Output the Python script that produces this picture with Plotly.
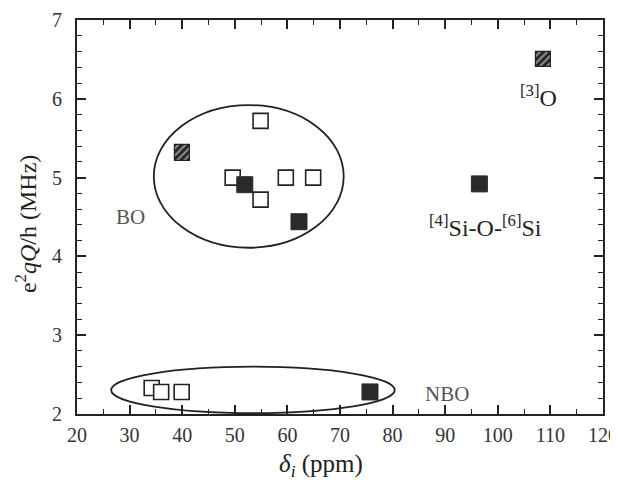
import plotly.graph_objects as go

# ---- data ----
open_x = [54.9, 49.6, 54.9, 59.7, 64.9, 34.2, 36.0, 39.9]
open_y = [5.72, 5.00, 4.72, 5.00, 5.00, 2.33, 2.28, 2.28]
filled_x = [51.9, 62.2, 96.5, 75.7]
filled_y = [4.91, 4.44, 4.92, 2.28]
hatched_x = [40.1, 108.7]
hatched_y = [5.31, 6.50]

# ellipse bounds [x0, x1, y0, y1] in data units
bo_ellipse = [34.6, 70.7, 4.11, 5.92]
nbo_ellipse = [26.5, 80.4, 2.01, 2.60]

label_text = ["<sup>[3]</sup>O", "<sup>[4]</sup>Si-O-<sup>[6]</sup>Si", "BO", "NBO"]
label_x = [107.8, 97.7, 30.2, 90.4]
label_y = [6.03, 4.38, 4.50, 2.25]
label_size = [24, 24, 21, 21]
label_color = ["#222", "#222", "#555", "#555"]

x_ticks = list(range(20, 121, 10))
y_ticks = list(range(2, 8))

FONT = "Liberation Serif"
INK = "#222222"

# half-size of the hatched box in data units (style only)
HW = 1.45
HH = 0.10

fig = go.Figure()

# hatched squares drawn as tiny patterned bars centred on the data points
fig.add_trace(go.Bar(
    x=hatched_x, y=[2 * HH] * len(hatched_x),
    base=[v - HH for v in hatched_y], width=2 * HW,
    marker=dict(color="#262626", line=dict(color=INK, width=1.2),
                pattern=dict(shape="/", fgcolor="white", bgcolor="#262626",
                             size=5, solidity=0.4)),
    showlegend=False, hoverinfo="skip"))

fig.add_trace(go.Scatter(
    x=open_x, y=open_y, mode="markers",
    marker=dict(symbol="square", size=15, color="white",
                line=dict(color=INK, width=1.6)),
    showlegend=False, hoverinfo="x+y"))

fig.add_trace(go.Scatter(
    x=filled_x, y=filled_y, mode="markers",
    marker=dict(symbol="square", size=16, color="#2a2a2a",
                line=dict(color="#2a2a2a", width=1)),
    showlegend=False, hoverinfo="x+y"))

for e in (bo_ellipse, nbo_ellipse):
    fig.add_shape(type="circle", xref="x", yref="y",
                  x0=e[0], x1=e[1], y0=e[2], y1=e[3],
                  line=dict(color=INK, width=1.8), layer="below")

for t, x, y, s, c in zip(label_text, label_x, label_y, label_size, label_color):
    fig.add_annotation(x=x, y=y, text=t, showarrow=False,
                       xanchor="center", yanchor="middle",
                       font=dict(family=FONT, size=s, color=c))

# axis titles as annotations placed relative to the plot area
fig.add_annotation(xref="paper", yref="paper", x=0.463, y=-0.13,
                   xanchor="center", yanchor="middle",
                   text="<i>δ<sub>i</sub></i> (ppm)", showarrow=False,
                   font=dict(family=FONT, size=25, color=INK))
fig.add_annotation(xref="paper", yref="paper", x=-0.097, y=0.482,
                   xanchor="center", yanchor="middle",
                   text="e<sup>2</sup><i>qQ</i>/h (MHz)", showarrow=False,
                   textangle=-90, font=dict(family=FONT, size=24, color=INK))

axis_common = dict(
    showline=True, linecolor=INK, linewidth=2, mirror="allticks",
    ticks="inside", ticklen=9, tickwidth=1.5, tickcolor=INK,
    showgrid=False, zeroline=False, automargin=False,
    ticklabeloverflow="allow",
    tickfont=dict(family=FONT, size=20, color="#333"),
)

fig.update_xaxes(
    range=[20, 120], tickvals=x_ticks, ticktext=[str(v) for v in x_ticks],
    minor=dict(ticks="inside", dtick=5, ticklen=5, tickwidth=1.3, tickcolor=INK, showgrid=False),
    ticklabelstandoff=2,
    **axis_common)
fig.update_yaxes(
    range=[2, 7], tickvals=y_ticks, ticktext=[str(v) for v in y_ticks],
    minor=dict(ticks="inside", dtick=0.2, ticklen=5, tickwidth=1.3, tickcolor=INK, showgrid=False),
    ticklabelstandoff=9,
    **axis_common)

# the page body adds an 8px margin, so the figure is sized to fit inside it
fig.update_layout(
    width=610, height=476,
    margin=dict(l=69, r=15, t=12, b=70),
    plot_bgcolor="white", paper_bgcolor="white",
    showlegend=False, bargap=0,
)

fig.write_html("out.html")
